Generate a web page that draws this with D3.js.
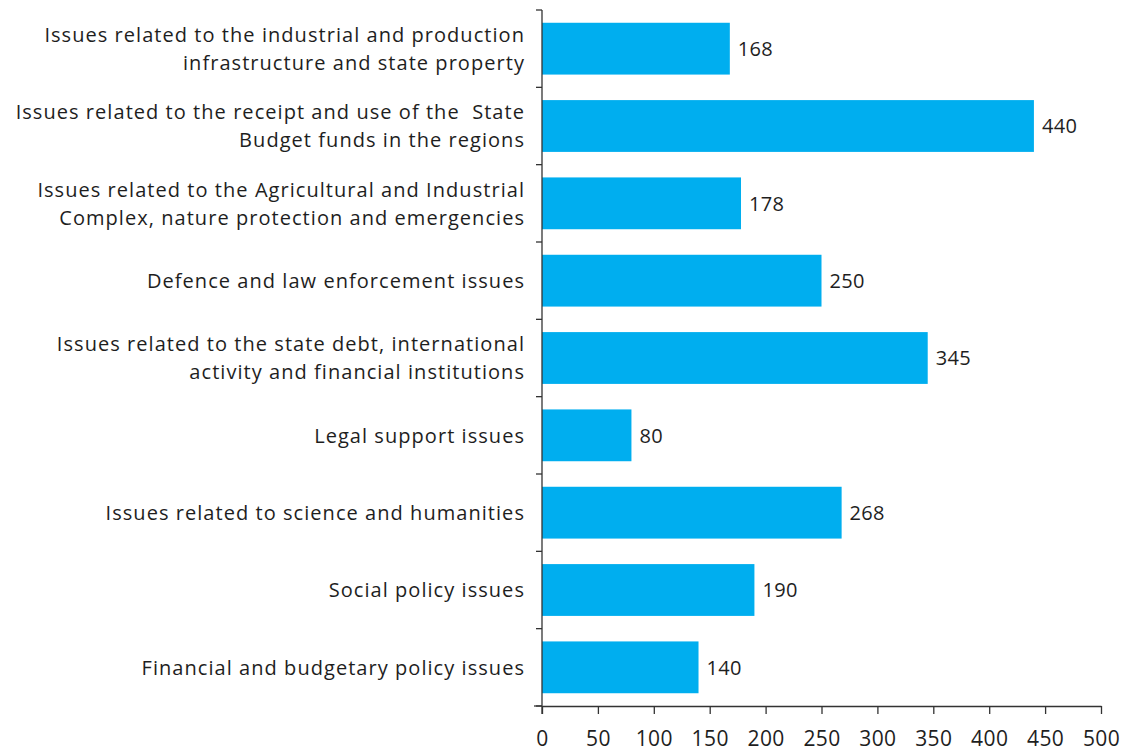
<!DOCTYPE html>
<html>
<head>
<meta charset="utf-8">
<script src="https://cdn.jsdelivr.net/npm/d3@7"></script>
<style>
  html, body { margin: 0; padding: 0; background: #fff; overflow: hidden; }
  svg text { font-family: "Open Sans", "Noto Sans", sans-serif; fill: #1e1e1e; }
</style>
</head>
<body>
<svg id="chart" width="1123" height="755"></svg>
<script>
// Category labels (each entry is a list of lines)
const categories = [
  ["Issues related to the industrial and production", "infrastructure and state property"],
  ["Issues related to the receipt and use of the  State", "Budget funds in the regions"],
  ["Issues related to the Agricultural and Industrial", "Complex, nature protection and emergencies"],
  ["Defence and law enforcement issues"],
  ["Issues related to the state debt, international", "activity and financial institutions"],
  ["Legal support issues"],
  ["Issues related to science and humanities"],
  ["Social policy issues"],
  ["Financial and budgetary policy issues"]
];
const values = [168, 440, 178, 250, 345, 80, 268, 190, 140];
const xTicks = [0, 50, 100, 150, 200, 250, 300, 350, 400, 450, 500];

const svg = d3.select("#chart");
const margin = { left: 542, right: 22, top: 10, bottom: 49 };
const width = 1123, height = 755;
const axisColor = "#333";

const x = d3.scaleLinear().domain([0, 500]).range([margin.left, width - margin.right]);
const y = d3.scaleBand()
  .domain(d3.range(categories.length))
  .range([margin.top, height - margin.bottom])
  .paddingInner(0.33)
  .paddingOuter(0.165);

// Bars
svg.append("g").selectAll("rect")
  .data(values)
  .join("rect")
  .attr("x", x(0))
  .attr("y", (d, i) => y(i))
  .attr("width", d => x(d) - x(0))
  .attr("height", y.bandwidth())
  .attr("fill", "#00AEEF");

// Value labels
svg.append("g").selectAll("text")
  .data(values)
  .join("text")
  .attr("x", d => x(d) + 8)
  .attr("y", (d, i) => y(i) + y.bandwidth() / 2)
  .attr("dy", "0.36em")
  .attr("font-size", 20)
  .attr("letter-spacing", "0.3px")
  .text(d => d);

// Category labels
const catG = svg.append("g");
categories.forEach((lines, i) => {
  const cy = y(i) + y.bandwidth() / 2;
  const lh = 28;
  const t = catG.append("text")
    .attr("text-anchor", "end")
    .attr("font-size", 20)
    .attr("letter-spacing", "1.05px")
    .style("white-space", "pre");
  lines.forEach((ln, k) => {
    t.append("tspan")
      .attr("x", margin.left - 17)
      .attr("y", cy + (k - (lines.length - 1) / 2) * lh)
      .attr("dy", "0.36em")
      .text(ln);
  });
});

// Left axis: line with outward ticks at band boundaries
const yTop = margin.top, yBot = height - margin.bottom;
const axisG = svg.append("g").attr("stroke", axisColor).attr("stroke-width", 1.3);
axisG.append("line")
  .attr("x1", x(0)).attr("x2", x(0))
  .attr("y1", yTop).attr("y2", yBot + 8);
axisG.selectAll("line.yt")
  .data(d3.range(categories.length + 1))
  .join("line")
  .attr("class", "yt")
  .attr("x1", x(0) - 6).attr("x2", x(0))
  .attr("y1", i => yTop + i * y.step())
  .attr("y2", i => yTop + i * y.step());

// Bottom axis
const xAxis = d3.axisBottom(x).tickValues(xTicks).tickSize(8).tickPadding(17).tickSizeOuter(0);
const xg = svg.append("g")
  .attr("transform", `translate(0,${yBot})`)
  .call(xAxis);
xg.select(".domain").attr("stroke", axisColor).attr("stroke-width", 1.3);
xg.selectAll(".tick line").attr("stroke", axisColor).attr("stroke-width", 1.3);
xg.selectAll(".tick text")
  .attr("font-size", 21)
  .attr("letter-spacing", "0.4px")
  .attr("fill", "#1e1e1e")
  .style("font-family", '"Open Sans", "Noto Sans", sans-serif');
xg.append("line")
  .attr("x1", x(0) - 8).attr("x2", x(0))
  .attr("y1", 0).attr("y2", 0)
  .attr("stroke", axisColor).attr("stroke-width", 1.3);
</script>
</body>
</html>
